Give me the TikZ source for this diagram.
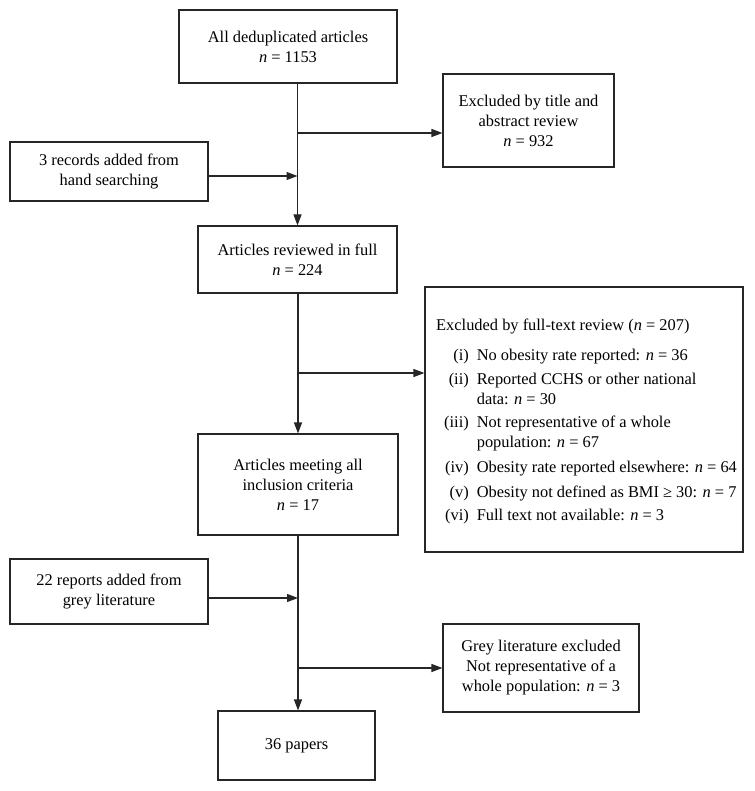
\documentclass[tikz,border=0pt]{standalone}
\usepackage{fontspec}
\setmainfont{Liberation Serif}
\usetikzlibrary{arrows.meta}
\begin{document}
\begin{tikzpicture}[x=1pt,y=-1pt,
  box/.style={draw=black!85, line width=1.1pt, inner sep=0pt, align=center,
    font=\fontsize{16.4}{20}\selectfont},
  arr/.style={draw=black!85, line width=1.1pt, -{Triangle[length=11pt,width=8pt]}},
  ln/.style={draw=black!85, line width=1.1pt}]
\useasboundingbox (0,0) rectangle (754,791);
\fill[white] (0,0) rectangle (754,791);

\node[box, minimum width=218pt, minimum height=73pt] (top) at (288,46.5)
  {All deduplicated articles\\\textit{n} = 1153};
\node[box, minimum width=171pt, minimum height=93pt] (extitle) at (528.5,120.5)
  {Excluded by title and\\abstract review\\\textit{n} = 932};
\node[box, minimum width=198pt, minimum height=59pt] (hand) at (109,171.5)
  {3 records added from\\hand searching};
\node[box, minimum width=199pt, minimum height=67pt] (reviewed) at (297.5,259.5)
  {Articles reviewed in full\\\textit{n} = 224};
\node[box, minimum width=318pt, minimum height=265pt] (exfull) at (584,419.5) {};
\node[inner sep=0pt, anchor=west, font=\fontsize{16.4}{20}\selectfont] (exfulltext) at (436,421)
  {\begin{tabular}{@{\hspace{8pt}}r@{\hspace{8pt}}l@{}}
  \multicolumn{2}{@{}l@{}}{Excluded by full-text review (\textit{n} = 207)}\\[10pt]
  (i) & No obesity rate reported: \textit{n} = 36\\[4pt]
  (ii) & Reported CCHS or other national\\
       & data: \textit{n} = 30\\[3pt]
  (iii) & Not representative of a whole\\
        & population: \textit{n} = 67\\[5pt]
  (iv) & Obesity rate reported elsewhere: \textit{n} = 64\\[5pt]
  (v) & Obesity not defined as BMI ≥ 30: \textit{n} = 7\\[3pt]
  (vi) & Full text not available: \textit{n} = 3
  \end{tabular}};
\node[box, minimum width=200pt, minimum height=101pt] (meeting) at (298,484.5)
  {Articles meeting all\\inclusion criteria\\\textit{n} = 17};
\node[box, minimum width=198pt, minimum height=65pt] (grey) at (109,591.5)
  {22 reports added from\\grey literature};
\node[box, minimum width=196pt, minimum height=88pt] (greyex) at (541,668)
  {Grey literature excluded\\Not representative of a\\whole population: \textit{n} = 3};
\node[box, minimum width=157pt, minimum height=69pt] (papers) at (296.5,745.5)
  {36 papers};

\coordinate (j1) at (297.5,133);
\coordinate (j2) at (297.5,176);
\coordinate (j3) at (298,373);
\coordinate (j4) at (298,598);
\coordinate (j5) at (298,668);

\draw[arr] (top.south -| reviewed.north) -- (reviewed.north);
\draw[arr] (j1) -- (j1 -| extitle.west);
\draw[arr] (hand.east |- j2) -- (j2);
\draw[arr] (reviewed.south -| meeting.north) -- (meeting.north);
\draw[arr] (j3) -- (j3 -| exfull.west);
\draw[arr] (meeting.south) -- (meeting.south |- papers.north);
\draw[arr] (grey.east |- j4) -- (j4);
\draw[arr] (j5) -- (j5 -| greyex.west);
\end{tikzpicture}
\end{document}
